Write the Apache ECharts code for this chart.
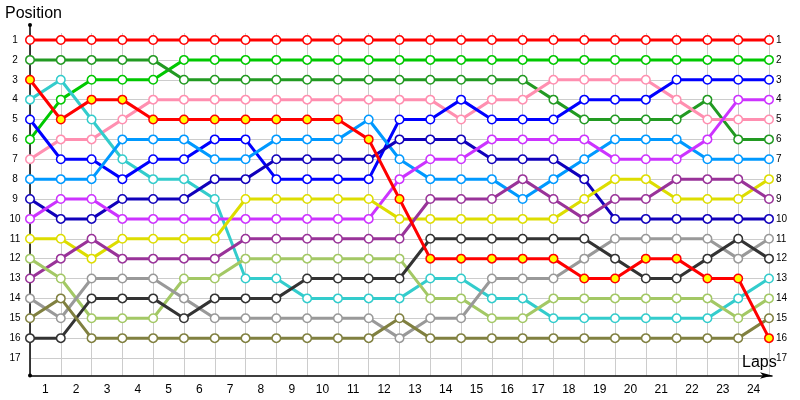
<!DOCTYPE html>
<html><head><meta charset="utf-8">
<script src="https://cdn.jsdelivr.net/npm/echarts@6/dist/echarts.min.js"></script>
<style>html,body{margin:0;padding:0;background:#fff}#c{width:800px;height:400px}</style>
</head><body><div id="c"></div>
<script>
// lap points (0 = start grid) and axis labels
const laps = [0,1,2,3,4,5,6,7,8,9,10,11,12,13,14,15,16,17,18,19,20,21,22,23,24];
const lapLabels = ['1','2','3','4','5','6','7','8','9','10','11','12','13','14','15','16','17','18','19','20','21','22','23','24'];
const positionTicks = [1,2,3,4,5,6,7,8,9,10,11,12,13,14,15,16,17];

// positions of each car, lap by lap
const carA = [1,1,1,1,1,1,1,1,1,1,1,1,1,1,1,1,1,1,1,1,1,1,1,1,1];
const carB = [6,4,3,3,3,2,2,2,2,2,2,2,2,2,2,2,2,2,2,2,2,2,2,2,2];
const carC = [2,2,2,2,2,3,3,3,3,3,3,3,3,3,3,3,3,4,5,5,5,5,4,6,6];
const carD = [7,6,6,5,4,4,4,4,4,4,4,4,4,4,5,4,4,3,3,3,3,4,5,5,5];
const carE = [3,5,4,4,5,5,5,5,5,5,5,6,9,12,12,12,12,12,13,13,12,12,13,13,16];
const carF = [4,3,5,7,8,8,9,13,13,14,14,14,14,13,13,14,14,15,15,15,15,15,15,14,13];
const carG = [5,7,7,8,7,7,6,6,8,8,8,8,5,5,4,5,5,5,4,4,4,3,3,3,3];
const carH = [8,8,8,6,6,6,7,7,6,6,6,5,7,8,8,8,9,8,7,6,6,6,7,7,7];
const carI = [9,10,10,9,9,9,8,8,7,7,7,7,6,6,6,7,7,7,8,10,10,10,10,10,10];
const carJ = [10,9,9,10,10,10,10,10,10,10,10,10,8,7,7,6,6,6,6,7,7,7,6,4,4];
const carK = [11,11,12,11,11,11,11,9,9,9,9,9,10,10,10,10,10,10,9,8,8,9,9,9,8];
const carL = [13,12,11,12,12,12,12,11,11,11,11,11,11,9,9,9,8,9,10,9,9,8,8,8,9];
const carM = [12,13,15,15,15,13,13,12,12,12,12,12,12,14,14,15,15,14,14,14,14,14,14,15,14];
const carN = [14,15,13,13,13,14,15,15,15,15,15,15,16,15,15,13,13,13,12,11,11,11,11,12,11];
const carO = [16,16,14,14,14,15,14,14,14,13,13,13,13,11,11,11,11,11,11,12,13,13,12,11,12];
const carP = [15,14,16,16,16,16,16,16,16,16,16,16,15,16,16,16,16,16,16,16,16,16,16,16,15];

const cars = [carA,carB,carC,carD,carF,carG,carH,carI,carJ,carK,carL,carM,carN,carO,carP,carE];
const lineColors = ['#ff0000','#00c800','#229a22','#ff8fb0','#33cccc','#0000ff','#0099ff','#1100bb','#cc33ff','#dddd00','#993399','#a3c865','#999999','#333333','#808040','#ff0000'];
const fillColors = ['#ffffff','#ffffff','#ffffff','#ffffff','#ffffff','#ffffff','#ffffff','#ffffff','#ffffff','#ffffff','#ffffff','#ffffff','#ffffff','#ffffff','#ffffff','#ffff00'];

const FONT = 'Liberation Sans';
const chart = echarts.init(document.getElementById('c'), null, {renderer:'canvas'});

const series = cars.map((arr, k) => ({
  type: 'line',
  xAxisIndex: 0, yAxisIndex: 0,
  data: laps.map((l, i) => [l, arr[i]]),
  symbol: 'circle', symbolSize: 8.5, showAllSymbol: true,
  clip: false,
  lineStyle: {width: 3, color: lineColors[k]},
  itemStyle: {color: fillColors[k], borderColor: lineColors[k], borderWidth: 1.5},
  emphasis: {disabled: true},
  z: 3 + k
}));

chart.setOption({
  animation: false,
  textStyle: {fontFamily: FONT},
  title: [
    {text: 'Position', left: 5, top: 6, padding: 0, textStyle: {fontSize: 16, fontWeight: 'normal', color: '#000', fontFamily: FONT}},
    {text: 'Laps', left: 742, top: 355, padding: 0, textStyle: {fontSize: 16, fontWeight: 'normal', color: '#000', fontFamily: FONT}}
  ],
  grid: [
    {left: 30, right: 31, top: 40, bottom: 42},
    {left: 30, right: 31, top: 33, bottom: 24.5},
    {left: 30, right: 28, top: 25, bottom: 24.5}
  ],
  xAxis: [
    {gridIndex: 0, type: 'value', min: 0, max: 24, interval: 1, show: false},
    {gridIndex: 1, type: 'value', min: 0, max: 24, interval: 1, position: 'bottom',
      axisLine: {show: false}, axisTick: {show: false}, axisLabel: {show: false},
      splitLine: {show: true, lineStyle: {color: '#cccccc', width: 1}}},
    {gridIndex: 1, type: 'category', data: lapLabels, boundaryGap: true, position: 'bottom',
      axisLine: {show: false}, axisTick: {show: false}, splitLine: {show: false},
      axisLabel: {margin: 8, fontSize: 12, color: '#000', fontFamily: FONT, interval: 0}},
    {gridIndex: 2, type: 'value', min: 0, max: 1, position: 'bottom',
      axisLine: {show: true, symbol: ['none', 'arrow'], symbolSize: [5, 12], lineStyle: {color: '#000', width: 1.5}},
      axisTick: {show: false}, axisLabel: {show: false}, splitLine: {show: false}}
  ],
  yAxis: [
    {gridIndex: 0, type: 'value', min: 1, max: 17, interval: 1, inverse: true, position: 'left',
      axisLine: {show: false}, axisTick: {show: false},
      axisLabel: {margin: 15, align: 'center', fontSize: 10, color: '#000', fontFamily: FONT},
      splitLine: {show: true, lineStyle: {color: '#cccccc', width: 1}}},
    {gridIndex: 0, type: 'value', min: 1, max: 17, interval: 1, inverse: true, position: 'right',
      axisLine: {show: false}, axisTick: {show: false},
      axisLabel: {margin: 7, fontSize: 10, color: '#000', fontFamily: FONT},
      splitLine: {show: false}},
    {gridIndex: 1, type: 'value', min: 0, max: 1, show: false},
    {gridIndex: 2, type: 'value', min: 0, max: 1,
      axisLine: {show: true, symbol: ['circle', 'circle'], symbolSize: [4, 4], lineStyle: {color: '#000', width: 1.5}},
      axisTick: {show: false}, axisLabel: {show: false}, splitLine: {show: false}}
  ],
  series: series
});
</script>
</body></html>
